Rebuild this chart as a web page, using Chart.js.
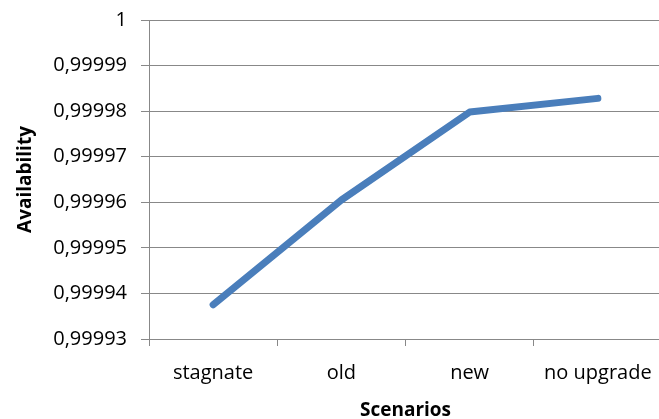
<!DOCTYPE html>
<html>
<head>
<meta charset="utf-8">
<script src="https://cdn.jsdelivr.net/npm/chart.js@4/dist/chart.umd.min.js"></script>
<style>
  html, body { margin: 0; padding: 0; background: #fff; overflow: hidden; }
  #wrap { position: relative; width: 662px; height: 419px; }
</style>
</head>
<body>
<div id="wrap"><canvas id="chart" width="662" height="419"></canvas></div>
<script>
// data
const scenarios = ['stagnate', 'old', 'new', 'no upgrade'];
const availability = [0.9999375, 0.9999605, 0.9999798, 0.9999828];
const yMin = 0.99993;
const yMax = 1;
const yStep = 0.00001;

const font = "'Open Sans', 'Noto Sans', sans-serif";
const gridColor = '#888888';

// comma as decimal separator, "1" on top
function fmt(v) {
    if (Math.abs(v - 1) < 1e-9) return '1';
    return v.toFixed(5).replace('.', ',');
}

const ctx = document.getElementById('chart').getContext('2d');
const myChart = new Chart(ctx, {
    type: 'line',
    data: {
        labels: scenarios,
        datasets: [{
            label: 'Availability',
            data: availability,
            borderColor: '#4a7ebb',
            borderWidth: 7,
            borderCapStyle: 'round',
            borderJoinStyle: 'round',
            pointRadius: 0,
            tension: 0,
            fill: false
        }]
    },
    options: {
        responsive: false,
        animation: false,
        layout: { padding: { top: 20, right: 0, left: 0, bottom: 0 } },
        plugins: { legend: { display: false }, tooltip: { enabled: false } },
        scales: {
            x: {
                offset: true,
                grid: { offset: true, drawOnChartArea: false, drawTicks: true, tickLength: 7, color: gridColor },
                border: { color: gridColor, width: 1 },
                ticks: { color: '#000', font: { family: font, size: 20 }, padding: 15, maxRotation: 0 },
                title: { display: true, text: 'Scenarios', color: '#000', font: { family: font, size: 19, weight: 'bold' }, padding: { top: 0, bottom: -3 } },
                afterFit: function (scale) {
                    scale.height = 80;
                    scale.paddingLeft = 0;
                    scale.paddingRight = 0;
                }
            },
            y: {
                min: yMin,
                max: yMax,
                grid: { color: gridColor, tickLength: 8, lineWidth: 1 },
                border: { color: gridColor, width: 1 },
                ticks: { stepSize: yStep, color: '#000', font: { family: font, size: 20 }, padding: 14, callback: fmt },
                title: { display: true, text: 'Availability', color: '#000', font: { family: font, size: 19, weight: 'bold' }, padding: { top: 14 } },
                afterFit: function (scale) {
                    scale.width = 149;
                    scale.paddingTop = 4; // let the layout padding decide the top
                }
            }
        }
    }
});
</script>
</body>
</html>
